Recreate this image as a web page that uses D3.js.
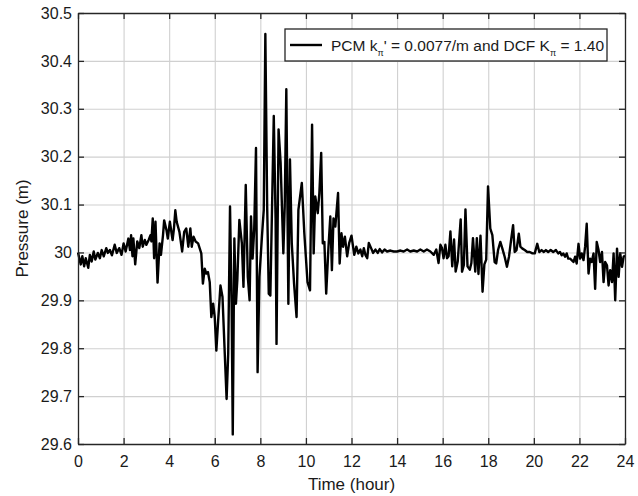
<!DOCTYPE html>
<html>
<head>
<meta charset="utf-8">
<script src="https://cdn.jsdelivr.net/npm/d3@7"></script>
<style>
  body { margin: 0; background: #fff; }
  svg { font-family: "Liberation Sans", Arial, sans-serif; }
</style>
</head>
<body>
<svg id="chart" width="638" height="496"></svg>
<script>
// Data (hour, metres)
const timeHours = [
  0, 0.12, 0.19, 0.27, 0.34, 0.45, 0.52, 0.60, 0.69, 0.76, 0.87, 0.96,
  1.04, 1.13, 1.24, 1.31, 1.40, 1.49, 1.61, 1.70, 1.81, 1.91,
  2.00, 2.09, 2.21, 2.28, 2.33, 2.39, 2.43, 2.51, 2.60, 2.69, 2.78, 2.84, 2.93,
  3.00, 3.10, 3.18, 3.22, 3.28, 3.34, 3.40, 3.49, 3.58, 3.64, 3.73, 3.78, 3.88, 3.94,
  4.03, 4.15, 4.21, 4.27, 4.33, 4.45, 4.57, 4.66, 4.75, 4.84, 4.93, 4.99,
  5.07, 5.16, 5.27, 5.41, 5.48, 5.56, 5.63, 5.70, 5.78, 5.85, 5.93,
  6.00, 6.07, 6.15, 6.25, 6.34, 6.44, 6.52, 6.59, 6.67, 6.74, 6.79, 6.86, 6.93, 6.99,
  7.08, 7.19, 7.26, 7.36, 7.45, 7.53, 7.59, 7.66, 7.73, 7.81, 7.88, 7.96,
  8.07, 8.15, 8.22, 8.30, 8.37, 8.44, 8.52, 8.59, 8.67, 8.71, 8.80, 8.89,
  9.01, 9.07, 9.14, 9.23, 9.30, 9.38, 9.48, 9.59, 9.67, 9.82, 9.93,
  10.07, 10.18, 10.27, 10.34, 10.41, 10.52, 10.59, 10.67, 10.74, 10.81, 10.89, 10.99,
  11.07, 11.14, 11.21, 11.29, 11.41, 11.48, 11.56, 11.63, 11.71, 11.81, 11.90,
  12.00, 12.12, 12.21, 12.30, 12.39, 12.47, 12.54, 12.61, 12.69, 12.76, 12.86, 12.95,
  13.05, 13.15, 13.24, 13.34, 13.45, 13.56, 13.71, 13.85,
  14.00, 14.15, 14.29, 14.44, 14.58, 14.73, 14.88,
  15.02, 15.17, 15.31, 15.46, 15.61, 15.72, 15.82, 15.90, 15.97,
  16.04, 16.12, 16.19, 16.26, 16.34, 16.42, 16.50, 16.57, 16.66, 16.79, 16.85, 16.93,
  17.00, 17.09, 17.19, 17.26, 17.33, 17.43, 17.50, 17.57, 17.66, 17.75, 17.83, 17.91, 17.99,
  18.09, 18.18, 18.28, 18.35, 18.43, 18.53, 18.62, 18.72, 18.82, 18.91,
  19.01, 19.09, 19.16, 19.24, 19.34, 19.41, 19.50, 19.60, 19.71, 19.82, 19.94,
  20.04, 20.15, 20.24, 20.34, 20.44, 20.53, 20.63, 20.74, 20.85, 20.97,
  21.07, 21.15, 21.22, 21.29, 21.37, 21.44, 21.51, 21.59, 21.66, 21.74, 21.81, 21.88, 21.96,
  22.03, 22.10, 22.18, 22.25, 22.32, 22.40, 22.47, 22.54, 22.62, 22.69, 22.76, 22.84, 22.91, 22.99,
  23.06, 23.13, 23.21, 23.28, 23.35, 23.43, 23.50, 23.57, 23.65, 23.72, 23.79, 23.87, 23.94, 24.00
];

const pressureM = [
  30.000, 29.975, 29.992, 29.971, 29.988, 29.968, 29.995, 29.981, 30.002, 29.985, 29.999, 29.988,
  30.005, 29.992, 30.009, 29.999, 30.005, 29.994, 30.016, 29.999, 30.009, 29.995,
  30.019, 30.002, 30.029, 30.005, 30.036, 29.992, 30.029, 29.975, 30.023, 30.009, 30.036, 30.012, 30.026,
  30.016, 30.026, 30.036, 30.023, 30.071, 29.988, 30.064, 29.937, 30.019, 29.995, 30.036, 30.067, 30.047, 30.029,
  30.064, 30.026, 30.050, 30.088, 30.064, 30.043, 30.002, 30.043, 30.050, 30.012, 30.050, 30.012,
  30.033, 30.023, 30.019, 29.998, 29.935, 29.966, 29.956, 29.959, 29.938, 29.865, 29.893,
  29.865, 29.795, 29.858, 29.931, 29.907, 29.788, 29.694, 29.788, 30.096, 29.893, 29.620, 30.029, 29.893, 29.942,
  30.068, 30.019, 29.928, 30.141, 29.949, 29.900, 30.075, 29.987, 30.047, 30.218, 29.750, 29.949,
  30.033, 30.089, 30.456, 30.096, 29.914, 29.910, 30.110, 30.285, 30.068, 29.809, 30.257, 30.187,
  29.998, 30.096, 30.341, 29.893, 30.194, 30.019, 29.935, 29.865, 30.089, 30.145, 30.040,
  29.938, 29.921, 30.267, 29.998, 30.117, 30.082, 30.124, 30.208, 30.019, 30.022, 29.914, 30.012,
  30.075, 29.963, 30.071, 30.054, 30.124, 29.977, 30.040, 30.012, 30.033, 29.992, 30.020,
  30.035, 29.995, 30.012, 29.998, 30.006, 29.992, 30.009, 29.995, 29.988, 30.020, 30.009, 29.999,
  30.006, 29.999, 30.007, 30.000, 30.006, 30.002, 30.004, 30.002,
  30.002, 30.004, 30.002, 30.006, 30.002, 30.004, 30.002,
  30.006, 30.002, 30.006, 30.002, 29.995, 30.006, 29.978, 30.016, 30.009,
  29.988, 30.016, 29.988, 29.992, 30.044, 29.971, 30.027, 29.960, 29.981, 30.069, 29.960, 29.974,
  30.090, 29.971, 29.964, 29.978, 30.030, 29.960, 30.030, 29.955, 30.035, 29.918, 29.975, 29.985, 30.138,
  30.050, 30.036, 29.980, 29.977, 30.005, 30.022, 30.008, 29.991, 29.970, 29.991,
  30.029, 30.057, 30.001, 30.005, 30.039, 30.012, 30.008, 30.005, 30.001, 30.001, 29.998,
  29.998, 30.018, 30.001, 30.005, 30.001, 30.005, 30.001, 30.005, 30.001, 30.005,
  29.998, 30.001, 29.994, 29.998, 29.991, 29.998, 29.987, 29.987, 29.984, 29.980, 29.991, 29.977, 30.018,
  29.987, 29.998, 29.984, 30.012, 30.060, 29.956, 29.987, 29.980, 29.998, 29.924, 30.022, 30.005, 29.980, 30.001,
  29.938, 29.980, 29.973, 29.931, 29.963, 29.938, 29.998, 29.900, 30.008, 29.949, 29.998, 29.970, 29.991, 29.994
];

const xTicks = [0, 2, 4, 6, 8, 10, 12, 14, 16, 18, 20, 22, 24];
const yTicks = [29.6, 29.7, 29.8, 29.9, 30, 30.1, 30.2, 30.3, 30.4, 30.5];
const seriesName = 'PCM';

const WIDTH = 638;
const HEIGHT = 496;
const MARGIN = { left: 78, right: 13, top: 13, bottom: 52 };

const svg = d3.select('#chart');
svg.append('rect').attr('width', WIDTH).attr('height', HEIGHT).attr('fill', '#fff');

// Scales
const xScale = d3.scaleLinear()
  .domain([0, 24])
  .range([MARGIN.left, WIDTH - MARGIN.right]);

const yScale = d3.scaleLinear()
  .domain([29.6, 30.5])
  .range([HEIGHT - MARGIN.bottom, MARGIN.top]);

const plotW = WIDTH - MARGIN.left - MARGIN.right;
const plotH = HEIGHT - MARGIN.top - MARGIN.bottom;

// Grid lines
svg.append('g')
  .attr('class', 'grid')
  .attr('transform', `translate(0, ${HEIGHT - MARGIN.bottom})`)
  .call(d3.axisBottom(xScale).tickValues(xTicks).tickSize(-plotH).tickFormat(''))
  .call(g => g.select('.domain').remove())
  .call(g => g.selectAll('line').attr('stroke', '#d0d0d0').attr('stroke-width', 1.1));

svg.append('g')
  .attr('class', 'grid')
  .attr('transform', `translate(${MARGIN.left}, 0)`)
  .call(d3.axisLeft(yScale).tickValues(yTicks).tickSize(-plotW).tickFormat(''))
  .call(g => g.select('.domain').remove())
  .call(g => g.selectAll('line').attr('stroke', '#d0d0d0').attr('stroke-width', 1.1));

// Data line
const lineGenerator = d3.line()
  .x(d => xScale(d[0]))
  .y(d => yScale(d[1]));

const points = timeHours.map((t, i) => [t, pressureM[i]]);

svg.append('path')
  .datum(points)
  .attr('fill', 'none')
  .attr('stroke', '#000')
  .attr('stroke-width', 2.4)
  .attr('stroke-linejoin', 'round')
  .attr('d', lineGenerator);

// Axes, ticks pointing inward on all four sides
const styleAxis = g => {
  g.select('.domain').attr('stroke', '#262626').attr('stroke-width', 1.3);
  g.selectAll('.tick line').attr('stroke', '#262626').attr('stroke-width', 1.3);
  g.selectAll('.tick text').attr('fill', '#1a1a1a').attr('font-size', 16);
};

svg.append('g')
  .attr('transform', `translate(0, ${HEIGHT - MARGIN.bottom})`)
  .call(d3.axisBottom(xScale).tickValues(xTicks).tickSizeInner(-6).tickSizeOuter(0).tickPadding(12))
  .call(styleAxis);

svg.append('g')
  .attr('transform', `translate(0, ${MARGIN.top})`)
  .call(d3.axisTop(xScale).tickValues(xTicks).tickSizeInner(-6).tickSizeOuter(0).tickFormat(''))
  .call(styleAxis);

svg.append('g')
  .attr('transform', `translate(${MARGIN.left}, 0)`)
  .call(d3.axisLeft(yScale).tickValues(yTicks).tickSizeInner(-6).tickSizeOuter(0).tickPadding(6)
    .tickFormat(d3.format('~g')))
  .call(styleAxis);

svg.append('g')
  .attr('transform', `translate(${WIDTH - MARGIN.right}, 0)`)
  .call(d3.axisRight(yScale).tickValues(yTicks).tickSizeInner(-6).tickSizeOuter(0).tickFormat(''))
  .call(styleAxis);

// Axis labels
svg.append('text')
  .text('Time (hour)')
  .attr('x', MARGIN.left + plotW / 2)
  .attr('y', 490)
  .attr('text-anchor', 'middle')
  .attr('font-size', 17)
  .attr('fill', '#1a1a1a');

svg.append('text')
  .text('Pressure (m)')
  .attr('text-anchor', 'middle')
  .attr('font-size', 17)
  .attr('fill', '#1a1a1a')
  .attr('transform', `translate(28, ${MARGIN.top + plotH / 2}) rotate(-90)`);

// Legend
const legend = svg.append('g');
legend.append('rect')
  .attr('x', 285).attr('y', 29)
  .attr('width', 322).attr('height', 32)
  .attr('fill', '#fff')
  .attr('stroke', '#262626')
  .attr('stroke-width', 1.3);

legend.append('line')
  .attr('x1', 290).attr('x2', 322)
  .attr('y1', 45).attr('y2', 45)
  .attr('stroke', '#000')
  .attr('stroke-width', 2.4);

const legendText = legend.append('text')
  .attr('x', 331)
  .attr('y', 50.5)
  .attr('font-size', 15.5)
  .attr('fill', '#1a1a1a');

legendText.append('tspan').text(seriesName + ' k');
legendText.append('tspan').text('π').attr('font-size', 9).attr('dy', 5);
legendText.append('tspan').text("' = 0.0077/m and DCF K").attr('dy', -5);
legendText.append('tspan').text('π').attr('font-size', 9).attr('dy', 5);
legendText.append('tspan').text(' = 1.40').attr('dy', -5);
</script>
</body>
</html>
